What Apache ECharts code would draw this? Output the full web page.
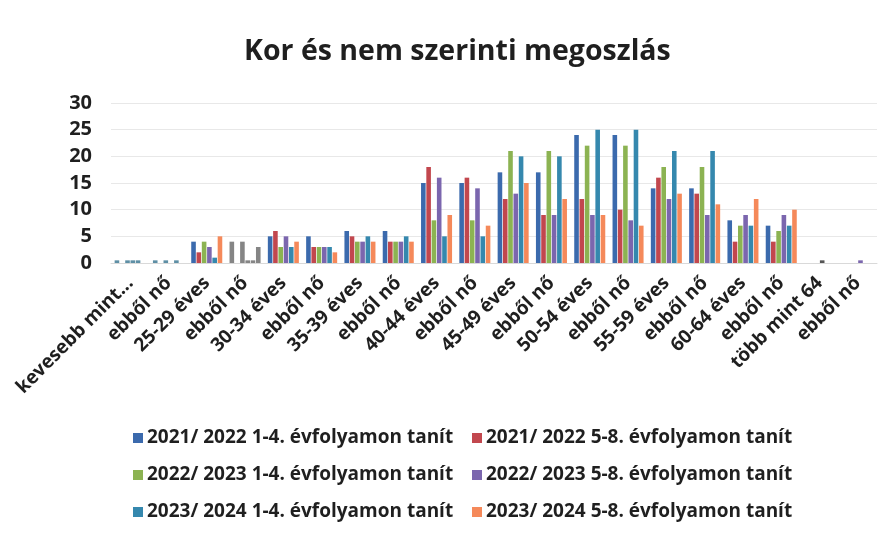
<!DOCTYPE html>
<html>
<head>
<meta charset="utf-8">
<script src="https://cdn.jsdelivr.net/npm/echarts@6/dist/echarts.min.js"></script>
<style>html,body{margin:0;padding:0;background:#fff;}#c{width:891px;height:542px;}</style>
</head>
<body>
<div id="c"></div>
<script>
var categories = ["kevesebb mint...", "ebből nő", "25-29 éves", "ebből nő", "30-34 éves", "ebből nő", "35-39 éves", "ebből nő", "40-44 éves", "ebből nő", "45-49 éves", "ebből nő", "50-54 éves", "ebből nő", "55-59 éves", "ebből nő", "60-64 éves", "ebből nő", "több mint 64", "ebből nő"];
var seriesNames = ["2021/ 2022 1-4. évfolyamon tanít", "2021/ 2022 5-8. évfolyamon tanít", "2022/ 2023 1-4. évfolyamon tanít", "2022/ 2023 5-8. évfolyamon tanít", "2023/ 2024 1-4. évfolyamon tanít", "2023/ 2024 5-8. évfolyamon tanít"];
var s2122_14 = [0.5, 0.5, 4, 4, 5, 5, 6, 6, 15, 15, 17, 17, 24, 24, 14, 14, 8, 7, 0, 0];
var s2122_58 = [0, 0, 2, 0, 6, 3, 5, 4, 18, 16, 12, 9, 12, 10, 16, 13, 4, 4, 0, 0];
var s2223_14 = [0.5, 0.5, 4, 4, 3, 3, 4, 4, 8, 8, 21, 21, 22, 22, 18, 18, 7, 6, 0, 0];
var s2223_58 = [0.5, 0, 3, 0.5, 5, 3, 4, 4, 16, 14, 13, 9, 9, 8, 12, 9, 9, 9, 0.5, 0.5];
var s2324_14 = [0.5, 0.5, 1, 0.5, 3, 3, 5, 5, 5, 5, 20, 20, 25, 25, 21, 21, 7, 7, 0, 0];
var s2324_58 = [0, 0, 5, 3, 4, 2, 4, 4, 9, 7, 15, 12, 9, 7, 13, 11, 12, 10, 0, 0];
var yTicks = [0, 5, 10, 15, 20, 25, 30];

var values = [s2122_14, s2122_58, s2223_14, s2223_58, s2324_14, s2324_58];
var colors = ['#3B6AAD', '#C2474E', '#8CB352', '#7B66AE', '#3588AE', '#F5895A'];
var FONT = 'Open Sans';

var series = values.map(function (arr, si) {
  return {
    name: seriesNames[si],
    type: 'bar',
    barGap: '15%',
    barCategoryGap: '19%',
    itemStyle: { color: colors[si] },
    data: arr.map(function (v, ci) {
      if (ci === 3) return { value: v, itemStyle: { color: '#858585' } };
      if (ci === 0 || ci === 1) return { value: v, itemStyle: { color: '#5E8FA5' } };
      if (ci === 18) return { value: v, itemStyle: { color: '#555555' } };
      return v;
    })
  };
});

var chart = echarts.init(document.getElementById('c'), null, { renderer: 'canvas' });
chart.setOption({
  backgroundColor: '#ffffff',
  animation: false,
  color: colors,
  title: {
    text: 'Kor és nem szerinti megoszlás',
    left: 239,
    top: 32,
    textStyle: { fontFamily: FONT, fontSize: 28.5, fontWeight: 'bold', color: '#1f1f1f' }
  },
  legend: [
    {
      data: [seriesNames[0], seriesNames[2], seriesNames[4]],
      orient: 'vertical',
      left: 128,
      top: 422,
      itemWidth: 10,
      itemHeight: 10,
      itemGap: 15,
      icon: 'rect',
      textStyle: { fontFamily: FONT, fontSize: 19, fontWeight: 'bold', color: '#1f1f1f', lineHeight: 22, padding: [0, 0, 0, -1] }
    },
    {
      data: [seriesNames[1], seriesNames[3], seriesNames[5]],
      orient: 'vertical',
      left: 467,
      top: 422,
      itemWidth: 10,
      itemHeight: 10,
      itemGap: 15,
      icon: 'rect',
      textStyle: { fontFamily: FONT, fontSize: 19, fontWeight: 'bold', color: '#1f1f1f', lineHeight: 22, padding: [0, 0, 0, -1] }
    }
  ],
  grid: { left: 111, right: 14, top: 103, bottom: 279, containLabel: false },
  xAxis: {
    type: 'category',
    data: categories,
    axisLine: { show: true, lineStyle: { color: '#d9d9d9' } },
    axisTick: { show: false },
    axisLabel: {
      interval: 0,
      rotate: 45,
      margin: 17,
      fontFamily: FONT,
      fontSize: 19,
      fontWeight: 'bold',
      color: '#1f1f1f'
    }
  },
  yAxis: {
    type: 'value',
    min: yTicks[0],
    max: yTicks[yTicks.length - 1],
    interval: yTicks[1] - yTicks[0],
    axisLine: { show: false },
    axisTick: { show: false },
    splitLine: { lineStyle: { color: '#e8e8e8' } },
    axisLabel: {
      margin: 19,
      fontFamily: FONT,
      fontSize: 20,
      fontWeight: 'bold',
      color: '#1f1f1f'
    }
  },
  series: series
});
</script>
</body>
</html>
